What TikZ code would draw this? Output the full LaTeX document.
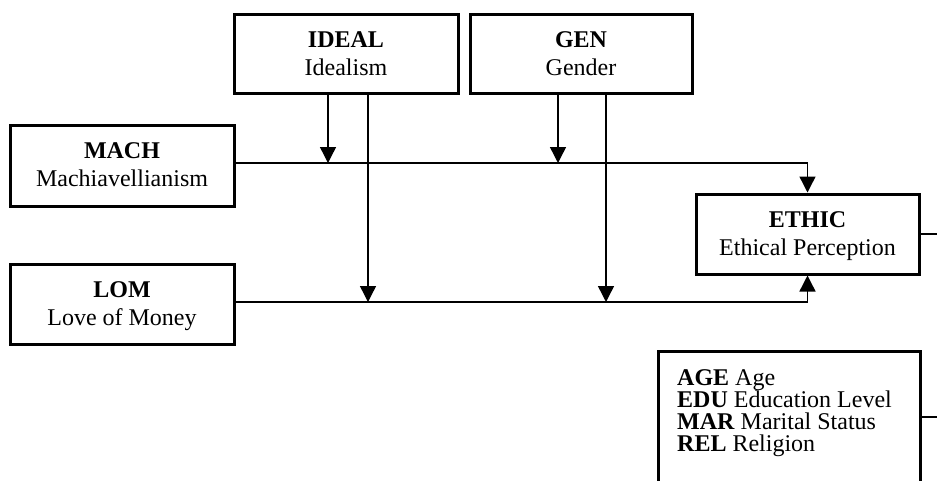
\documentclass[tikz,border=0pt]{standalone}
\usepackage{fontspec}
\setmainfont{Liberation Serif}
\usetikzlibrary{arrows.meta}
\begin{document}
\begin{tikzpicture}[x=1pt,y=-1pt,
  varbox/.style={draw, line width=3pt, inner sep=0pt},
  vartext/.style={anchor=base, inner sep=0pt, font=\fontsize{24}{28}\selectfont},
  conn/.style={line width=1.4pt},
  arr/.style={conn, -{Triangle[width=16pt,length=16pt]}}]
\useasboundingbox (0,0) rectangle (937,480);
% variable boxes
\node[varbox, minimum width=224pt, minimum height=79pt] (IDEAL) at (346,53.5) {};
\node[varbox, minimum width=222pt, minimum height=79pt] (GEN) at (581,53.5) {};
\node[varbox, minimum width=224pt, minimum height=81pt] (MACH) at (122,165.5) {};
\node[varbox, minimum width=224pt, minimum height=80pt] (LOM) at (122,304) {};
\node[varbox, minimum width=223pt, minimum height=80pt] (ETHIC) at (807.5,234) {};
% box texts
\node[vartext] (IDEALt) at ([yshift=-34.5pt]IDEAL.north) {\begin{tabular}[t]{@{}c@{}}\textbf{IDEAL}\\Idealism\end{tabular}};
\node[vartext] (GENt) at ([yshift=-34.5pt]GEN.north) {\begin{tabular}[t]{@{}c@{}}\textbf{GEN}\\Gender\end{tabular}};
\node[vartext] (MACHt) at ([yshift=-34.5pt]MACH.north) {\begin{tabular}[t]{@{}c@{}}\textbf{MACH}\\Machiavellianism\end{tabular}};
\node[vartext] (LOMt) at ([yshift=-34.5pt]LOM.north) {\begin{tabular}[t]{@{}c@{}}\textbf{LOM}\\Love of Money\end{tabular}};
\node[vartext] (ETHICt) at ([yshift=-35pt]ETHIC.north) {\begin{tabular}[t]{@{}c@{}}\textbf{ETHIC}\\Ethical Perception\end{tabular}};
% control box
\node[varbox, minimum width=262pt, minimum height=160pt, anchor=north west] (CTRL) at (657,350) {};
\node[anchor=north west, align=left, inner sep=0pt, font=\fontsize{24}{22}\selectfont] (CTRLTXT) at (677,369)
  {\textbf{AGE} Age\\\textbf{EDU} Education Level\\\textbf{MAR} Marital Status\\\textbf{REL} Religion};
% main paths
\draw[arr] ([yshift=2.5pt]MACH.east) -| (ETHIC.north);
\draw[arr] ([yshift=2pt]LOM.east) -| (ETHIC.south);
% moderator arrows
\coordinate (m1) at (328,163);
\coordinate (m2) at (368,302);
\coordinate (m3) at (558,163);
\coordinate (m4) at (606,302);
\draw[arr] (IDEAL.south -| m1) -- (m1);
\draw[arr] (IDEAL.south -| m2) -- (m2);
\draw[arr] (GEN.south -| m3) -- (m3);
\draw[arr] (GEN.south -| m4) -- (m4);
% lines leaving the right edge
\coordinate (e1) at (937,234);
\coordinate (e2) at (937,417);
\draw[conn] (ETHIC.east) -- (e1);
\draw[conn] (CTRL.east |- e2) -- (e2);
\end{tikzpicture}
\end{document}
